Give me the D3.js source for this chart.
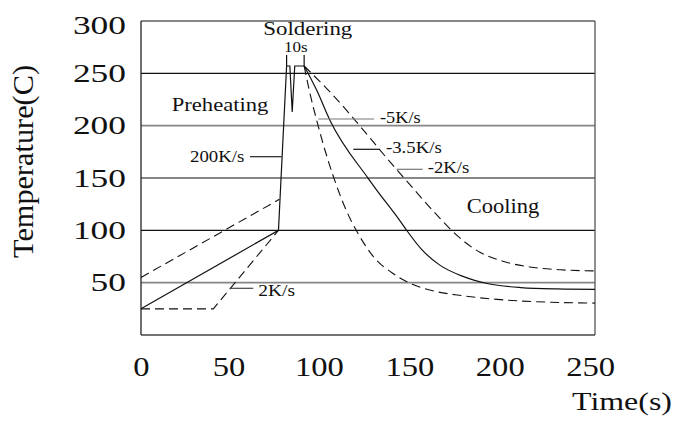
<!DOCTYPE html>
<html>
<head>
<meta charset="utf-8">
<script src="https://cdn.jsdelivr.net/npm/d3@7/dist/d3.min.js"></script>
<style>
  html, body { margin: 0; padding: 0; background: #fff; }
  svg { display: block; }
  svg text { font-family: "Liberation Serif", "Times New Roman", serif !important; fill: #111; }
</style>
</head>
<body>
<svg id="chart" width="673" height="421"></svg>
<script>
// ---------------- data ----------------
const xTicks = [0, 50, 100, 150, 200, 250];
const yTicks = [50, 100, 150, 200, 250, 300];
const gridValues = [50, 100, 150, 200, 250];

// main (solid) profile: preheat, spike, soldering plateau with dip
const mainTime = [0, 76, 80.5, 82.3, 83.6, 85, 90.2];
const mainTemp = [25, 100, 257, 257, 213, 257, 257];

// alternative preheat curves (dashed)
const preUpperTime = [0, 76.5];
const preUpperTemp = [55, 129.6];
const preLowerTime = [0, 40, 76];
const preLowerTemp = [25, 25, 100];

// cooling curves
const cool5Time = [90.2, 93, 97, 109, 115.5, 119, 128.4, 140, 150, 162, 178, 205, 233, 251];
const cool5Temp = [257, 234, 206, 138.5, 111.5, 100, 75, 58, 48.5, 42, 37.5, 33, 31, 30.5];
const cool35Time = [90.2, 97.1, 104.5, 125.6, 130.3, 142.2, 146.9, 155, 165, 178, 192, 210, 230, 251];
const cool35Temp = [257, 234, 205, 149.7, 138.5, 111.5, 100, 82, 67, 56, 49, 45.3, 44, 43.6];
const cool2Time = [90.2, 103.5, 141.3, 165.3, 171.7, 187.4, 200, 215, 232, 251];
const cool2Temp = [257, 234, 158.2, 111.5, 100, 79, 70.5, 65, 62.3, 61.2];

// bracket for the 10 s soldering window
const bracketTime = [80.5, 90.2];
const bracketTemp = [257, 267.5];

// ---------------- drawing ----------------
const FONT = '"Liberation Serif", "Times New Roman", serif';
const svg = d3.select("#chart");
const x = d3.scaleLinear().domain([0, 251]).range([141, 595]);
const y = d3.scaleLinear().domain([0, 300]).range([335, 21]);

const zip = (a, b) => a.map((v, i) => [v, b[i]]);
const lineLin = d3.line().x(d => x(d[0])).y(d => y(d[1]));
const lineCurve = d3.line().x(d => x(d[0])).y(d => y(d[1])).curve(d3.curveMonotoneX);

// gridlines
const gridStyle = { 50: ["#858585", 1.6], 100: ["#111", 1.1], 150: ["#111", 1.1], 200: ["#858585", 1.6], 250: ["#111", 1.1] };
svg.append("g").selectAll("line").data(gridValues).join("line")
  .attr("x1", x(0)).attr("x2", x(251))
  .attr("y1", d => y(d)).attr("y2", d => y(d))
  .attr("stroke", d => gridStyle[d][0]).attr("stroke-width", d => gridStyle[d][1]);

// frame
const fr = svg.append("g").attr("fill", "none");
fr.append("line").attr("x1", x(0)).attr("x2", x(251)).attr("y1", y(300)).attr("y2", y(300)).attr("stroke", "#111").attr("stroke-width", 1.2);
fr.append("line").attr("x1", x(0)).attr("x2", x(0)).attr("y1", y(300)).attr("y2", y(0)).attr("stroke", "#222").attr("stroke-width", 1.3);
fr.append("line").attr("x1", x(251)).attr("x2", x(251)).attr("y1", y(300)).attr("y2", y(0)).attr("stroke", "#555").attr("stroke-width", 1.3);
fr.append("line").attr("x1", x(0)).attr("x2", x(251)).attr("y1", y(0)).attr("y2", y(0)).attr("stroke", "#444").attr("stroke-width", 1.3);

// axes (labels only)
const yAxis = svg.append("g").attr("transform", `translate(${x(0)},0)`)
  .call(d3.axisLeft(y).tickValues(yTicks).tickSize(0).tickPadding(15));
yAxis.attr("font-family", FONT);
yAxis.select(".domain").remove();
yAxis.selectAll("text").attr("font-size", 26).attr("fill", "#111")
  .style("font-family", FONT)
  .attr("dy", d => d === 300 ? "0.47em" : "0.32em")
  .attr("textLength", d => String(d).length * 17.7).attr("lengthAdjust", "spacingAndGlyphs");

const xAxis = svg.append("g").attr("transform", `translate(0,${y(0)})`)
  .call(d3.axisBottom(x).tickValues(xTicks).tickSize(0).tickPadding(21.6));
xAxis.attr("font-family", FONT);
xAxis.select(".domain").remove();
xAxis.selectAll("text").attr("font-size", 28).attr("fill", "#111")
  .style("font-family", FONT)
  .attr("dx", d => d === 0 ? 0 : -3)
  .attr("textLength", d => String(d).length * 16.3).attr("lengthAdjust", "spacingAndGlyphs");

// curves
const g = svg.append("g").attr("fill", "none").attr("stroke", "#111");
g.append("path").attr("d", lineLin(zip(mainTime, mainTemp))).attr("stroke-width", 1.2).attr("stroke-linejoin", "miter");
g.append("path").attr("d", lineLin(zip(preUpperTime, preUpperTemp))).attr("stroke-width", 1.1).attr("stroke-dasharray", "9,5");
g.append("path").attr("d", lineLin(zip(preLowerTime, preLowerTemp))).attr("stroke-width", 1.1).attr("stroke-dasharray", "9,5");
g.append("path").attr("d", lineCurve(zip(cool35Time, cool35Temp))).attr("stroke-width", 1.2);
g.append("path").attr("d", lineCurve(zip(cool5Time, cool5Temp))).attr("stroke-width", 1.1).attr("stroke-dasharray", "9,5");
g.append("path").attr("d", lineCurve(zip(cool2Time, cool2Temp))).attr("stroke-width", 1.1).attr("stroke-dasharray", "9,5");

// 10s bracket
bracketTime.forEach(t => {
  g.append("line").attr("x1", x(t)).attr("x2", x(t))
    .attr("y1", y(bracketTemp[0])).attr("y2", y(bracketTemp[1])).attr("stroke-width", 1.2);
});

// leader lines
const leaders = [
  [250, 281.7, 156.7, "#222"],   // 200K/s
  [230.4, 253.3, 288.3, "#444"], // 2K/s
  [318.3, 374, 119, "#777"],     // -5K/s
  [353.3, 380, 149.3, "#111"],   // -3.5K/s
  [396.7, 422.7, 169.3, "#777"]  // -2K/s
];
leaders.forEach(([x1, x2, yy, c]) => {
  svg.append("line").attr("x1", x1).attr("x2", x2).attr("y1", yy).attr("y2", yy)
    .attr("stroke", c).attr("stroke-width", 1.2);
});

// text labels
function label(txt, lx, ly, size, len, anchor = "start", rot = 0) {
  const t = svg.append("text").text(txt)
    .attr("font-size", size).attr("text-anchor", anchor)
    .style("font-family", FONT)
    .attr("textLength", len).attr("lengthAdjust", "spacingAndGlyphs");
  if (rot) t.attr("transform", `translate(${lx},${ly}) rotate(${rot})`);
  else t.attr("x", lx).attr("y", ly);
  return t;
}
label("Soldering", 263.3, 35, 18, 89);
label("10s", 284, 51.7, 15.5, 23.7);
label("Preheating", 171.7, 110.7, 18.5, 96.7);
label("200K/s", 190, 161.7, 17.5, 54.3);
label("2K/s", 258.3, 296, 17.5, 36.7);
label("-5K/s", 380, 123.3, 17, 40.7);
label("-3.5K/s", 386, 153.3, 17, 55.7);
label("-2K/s", 427.7, 173.3, 17, 41.6);
label("Cooling", 466.7, 212.7, 20, 72.6);
label("Time(s)", 572, 410, 25, 100);
label("Temperature(C)", 33, 161.5, 30, 193, "middle", -90);
</script>
</body>
</html>
